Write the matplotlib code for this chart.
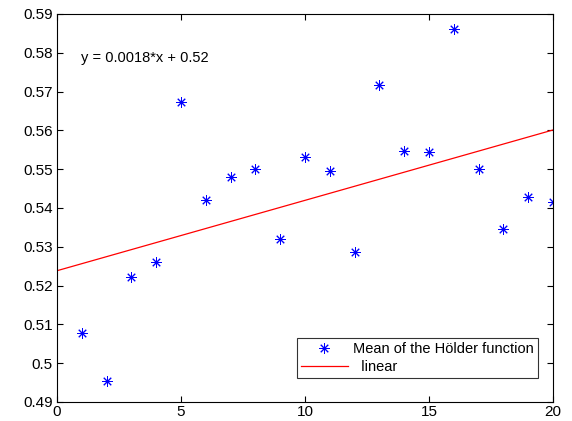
import numpy as np
import matplotlib; matplotlib.use("Agg")
import matplotlib.pyplot as plt

plt.rcParams['font.family'] = ['Liberation Sans', 'DejaVu Sans']

# mean Hoelder exponent per index
idx = np.arange(1, 21)
holder_mean = [0.5077, 0.4953, 0.5221, 0.5260, 0.5672, 0.5420, 0.5480, 0.5500, 0.5321, 0.5532,
               0.5495, 0.5287, 0.5716, 0.5546, 0.5544, 0.5862, 0.5500, 0.5345, 0.5429, 0.5416]
x_ticks = [0, 5, 10, 15, 20]
y_ticks = [0.49, 0.50, 0.51, 0.52, 0.53, 0.54, 0.55, 0.56, 0.57, 0.58, 0.59]
y_ticklabels = ["0.49", "0.5", "0.51", "0.52", "0.53", "0.54", "0.55", "0.56", "0.57", "0.58", "0.59"]

slope, icept = np.polyfit(idx, holder_mean, 1)
xl = np.array([0, 20])

fig = plt.figure(figsize=(5.72, 4.21), dpi=100)
ax = fig.add_axes([57 / 572, 19 / 421, 496 / 572, 388 / 421])
ax.plot(idx, holder_mean, linestyle="none", marker=(8, 2, 0), markersize=7.5,
        markeredgewidth=0.7, color="#0000ff", label="Mean of the H\u00f6lder function")
ax.plot(xl, icept + slope * xl, color="#ff0000", lw=0.9, label="  linear")
ax.text(0.97, 0.5787, "y = 0.0018*x + 0.52", fontsize=10.5, va="center", ha="left")

ax.set_xlim(0, 20); ax.set_ylim(0.49, 0.59)
ax.set_xticks(x_ticks); ax.set_yticks(y_ticks)
ax.set_yticklabels(y_ticklabels)
ax.tick_params(direction="in", top=True, right=True, labelsize=11, length=4, width=0.8, pad=3)
ax.tick_params(axis="x", pad=2.5)
for s in ax.spines.values():
    s.set_linewidth(0.8)
leg = ax.legend(loc="lower right", fontsize=10.5, frameon=True, fancybox=False, edgecolor="black",
                borderaxespad=0.0, bbox_to_anchor=(481 / 496, 24 / 388), handlelength=3.2,
                handletextpad=0.35, labelspacing=0.25, borderpad=0.3)
leg.get_frame().set_linewidth(0.8)
fig.savefig("out.png", dpi=100)
